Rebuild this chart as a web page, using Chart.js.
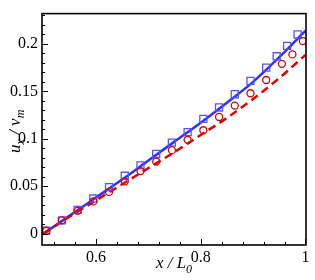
<!DOCTYPE html>
<html>
<head>
<meta charset="utf-8">
<script src="https://cdn.jsdelivr.net/npm/chart.js@4/dist/chart.umd.min.js"></script>
<style>
  html, body { margin: 0; padding: 0; background: #fff; }
  #wrap { width: 315px; height: 280px; }
</style>
</head>
<body>
<div id="wrap"><canvas id="myChart"></canvas></div>
<script>
// model curves
const lineX = [0.5, 0.55, 0.6, 0.65, 0.7, 0.75, 0.8, 0.85, 0.9, 0.95, 1.0];
const blueLineY = [0.0, 0.019, 0.038, 0.057, 0.077, 0.097, 0.117, 0.138, 0.160, 0.186, 0.214];
const redLineY = [0.0, 0.018, 0.035, 0.052, 0.069, 0.086, 0.104, 0.122, 0.142, 0.164, 0.1885];

// squares
const squareX = [0.505, 0.535, 0.565, 0.595, 0.625, 0.655, 0.685, 0.715, 0.745, 0.775, 0.805, 0.835, 0.865, 0.895, 0.925, 0.945, 0.965, 0.985];
const squareY = [0.003, 0.014, 0.025, 0.037, 0.049, 0.061, 0.072, 0.084, 0.096, 0.107, 0.121, 0.133, 0.147, 0.161, 0.175, 0.187, 0.198, 0.210];

// circles
const circleX = [0.505, 0.535, 0.565, 0.595, 0.625, 0.655, 0.685, 0.715, 0.745, 0.775, 0.805, 0.835, 0.865, 0.895, 0.925, 0.955, 0.975, 0.995];
const circleY = [0.003, 0.014, 0.024, 0.034, 0.044, 0.055, 0.066, 0.076, 0.088, 0.099, 0.109, 0.123, 0.135, 0.148, 0.162, 0.179, 0.189, 0.203];

const xTicks = [0.6, 0.8, 1];
const yTicks = [0, 0.05, 0.1, 0.15, 0.2];

const toPts = (xs, ys) => xs.map((x, i) => ({ x: x, y: ys[i] }));

// frame, inward ticks and axis titles
const framePlugin = {
  id: 'frame',
  afterDatasetsDraw(chart) {
    const { ctx, chartArea: a, scales } = chart;
    const xs = scales.x, ys = scales.y;
    ctx.save();
    ctx.strokeStyle = '#000';
    ctx.lineWidth = 1;
    for (let v = 0.52; v < 1.001; v += 0.04) {
      const px = Math.round(xs.getPixelForValue(v)) + 0.5;
      const major = xTicks.some(t => Math.abs(t - v) < 1e-6);
      ctx.beginPath();
      ctx.moveTo(px, a.bottom);
      ctx.lineTo(px, a.bottom - (major ? 6 : 3));
      ctx.stroke();
    }
    for (let v = 0; v < 0.231; v += 0.01) {
      const py = Math.round(ys.getPixelForValue(v)) + 0.5;
      const major = yTicks.some(t => Math.abs(t - v) < 1e-6);
      ctx.beginPath();
      ctx.moveTo(a.left, py);
      ctx.lineTo(a.left + (major ? 6 : 3), py);
      ctx.stroke();
    }
    ctx.lineWidth = 1.6;
    ctx.strokeRect(a.left, a.top, a.right - a.left, a.bottom - a.top);

    // x title
    ctx.fillStyle = '#000';
    ctx.textBaseline = 'alphabetic';
    ctx.font = 'italic 17px "Liberation Serif"';
    const main = 'x / L';
    const w1 = ctx.measureText(main).width;
    ctx.font = 'italic 12px "Liberation Serif"';
    const w2 = ctx.measureText('0').width;
    let sx = (a.left + a.right) / 2 - (w1 + w2) / 2;
    ctx.font = 'italic 17px "Liberation Serif"';
    ctx.fillText(main, sx, 268);
    ctx.font = 'italic 12px "Liberation Serif"';
    ctx.fillText('0', sx + w1, 273);

    // y title
    ctx.translate(20, (a.top + a.bottom) / 2 + 2);
    ctx.rotate(-Math.PI / 2);
    const parts = [['u', 17, 0], ['x', 12, 4], [' / v', 17, 0], ['m', 12, 4]];
    let tw = 0;
    parts.forEach(p => { ctx.font = 'italic ' + p[1] + 'px "Liberation Serif"'; tw += ctx.measureText(p[0]).width; });
    let cx = -tw / 2;
    parts.forEach(p => {
      ctx.font = 'italic ' + p[1] + 'px "Liberation Serif"';
      ctx.fillText(p[0], cx, p[2]);
      cx += ctx.measureText(p[0]).width;
    });
    ctx.restore();
  }
};

new Chart(document.getElementById('myChart'), {
  type: 'scatter',
  data: {
    datasets: [
      {
        data: toPts(lineX, blueLineY),
        showLine: true,
        borderColor: '#2f2fff',
        borderWidth: 2.5,
        pointRadius: 0,
        cubicInterpolationMode: 'monotone',
        order: 3
      },
      {
        data: toPts(lineX, redLineY),
        showLine: true,
        borderColor: '#dd0000',
        borderWidth: 2.5,
        borderDash: [8, 5],
        pointRadius: 0,
        cubicInterpolationMode: 'monotone',
        order: 2
      },
      {
        data: toPts(squareX, squareY),
        pointStyle: 'rect',
        pointRadius: 5,
        borderColor: '#5555ff',
        backgroundColor: 'rgba(0,0,0,0)',
        borderWidth: 1.3,
        order: 1
      },
      {
        data: toPts(circleX, circleY),
        pointStyle: 'circle',
        pointRadius: 3.5,
        borderColor: '#dd0000',
        backgroundColor: 'rgba(0,0,0,0)',
        borderWidth: 1.3,
        order: 0
      }
    ]
  },
  options: {
    responsive: true,
    maintainAspectRatio: false,
    animation: false,
    layout: { padding: { top: 8, right: 9, left: 0, bottom: 0 } },
    plugins: { legend: { display: false }, tooltip: { enabled: false } },
    scales: {
      x: {
        type: 'linear',
        min: 0.497,
        max: 1.001,
        afterBuildTicks: (s) => { s.ticks = xTicks.map(v => ({ value: v })); },
        afterFit: (s) => { s.height = 35; },
        grid: { display: false, drawTicks: false },
        border: { display: false },
        ticks: {
          color: '#000',
          padding: 3,
          maxRotation: 0,
          font: { family: '"Liberation Serif", "Times New Roman", serif', size: 16 },
          callback: (v) => String(v)
        }
      },
      y: {
        type: 'linear',
        min: -0.012,
        max: 0.232,
        afterBuildTicks: (s) => { s.ticks = yTicks.map(v => ({ value: v })); },
        afterFit: (s) => { s.width = 42; },
        grid: { display: false, drawTicks: false },
        border: { display: false },
        ticks: {
          color: '#000',
          padding: 4,
          font: { family: '"Liberation Serif", "Times New Roman", serif', size: 16 },
          callback: (v) => String(v)
        }
      }
    }
  },
  plugins: [framePlugin]
});
</script>
</body>
</html>
